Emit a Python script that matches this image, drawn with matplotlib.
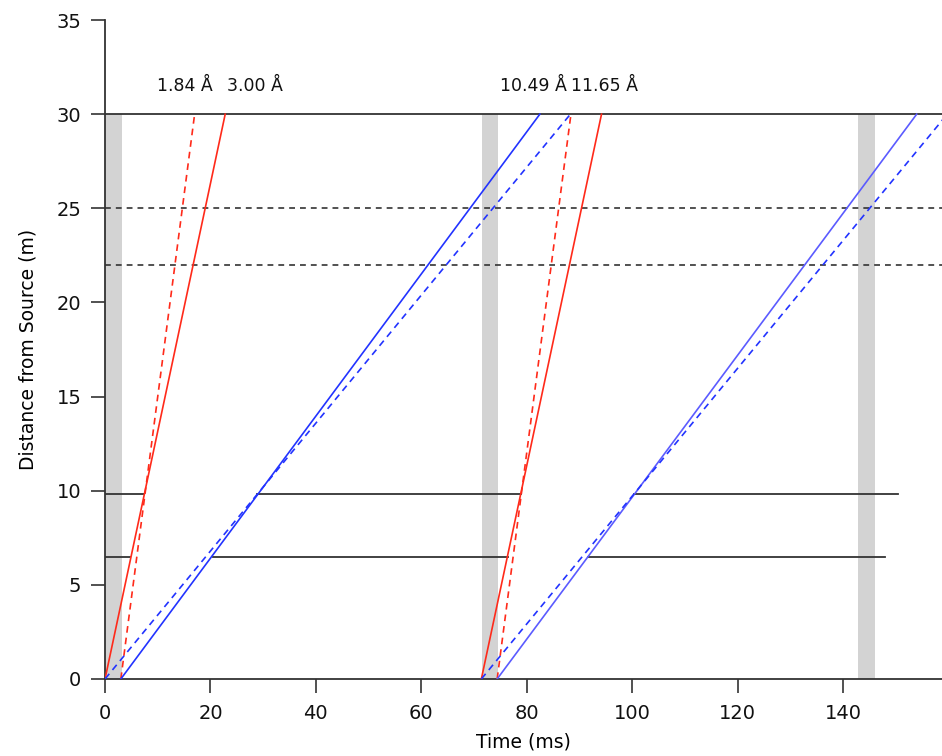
import matplotlib
matplotlib.use('Agg')
import matplotlib.pyplot as plt

# source pulses (ms), gray bands
pulse_starts = [0.0, 71.43, 142.86]
band_width = 3.2

# neutron lines: start time at source, time at 30 m (ms)
red_solid_t0 = [0.0, 71.4]
red_solid_t30 = [22.8, 94.2]
red_dash_t0 = [3.0, 74.4]
red_dash_t30 = [17.0, 88.4]
blue_solid_t0 = [3.0, 74.4]
blue_solid_t30 = [82.5, 154.0]
blue_dash_t0 = [0.0, 71.4]
blue_dash_t30 = [88.3, 159.8]

# chopper positions (m) and closed segments (ms)
chopper1_pos = 9.8
chopper1_closed = [(0.0, 7.4), (28.9, 79.0), (100.4, 150.4)]
chopper2_pos = 6.5
chopper2_closed = [(0.0, 4.8), (20.5, 76.4), (91.6, 147.9)]

detector_pos = 30.0
monitor_pos = [25.0, 22.0]

labels = ['1.84 Å', '3.00 Å', '10.49 Å', '11.65 Å']
label_x = [15.2, 28.5, 81.2, 94.7]
label_y = 31.5

plt.rcParams['font.family'] = ['DejaVu Sans']

fig = plt.figure(figsize=(9.42, 7.56), dpi=100)
ax = fig.add_axes([0.1115, 0.1019, 0.8885, 0.8716])

dark = '#333333'
for t in pulse_starts:
    ax.axvspan(t, t + band_width, ymin=0, ymax=30 / 35, color='#d3d3d3', lw=0, zorder=1)

ax.plot([0, 160], [detector_pos, detector_pos], color=dark, lw=1.3, zorder=2)
for y in monitor_pos:
    ax.plot([0, 160], [y, y], color=dark, lw=1.2, ls=(0, (3.5, 3)), zorder=2)
for a, b in chopper1_closed:
    ax.plot([a, b], [chopper1_pos, chopper1_pos], color=dark, lw=1.3, zorder=2)
for a, b in chopper2_closed:
    ax.plot([a, b], [chopper2_pos, chopper2_pos], color=dark, lw=1.3, zorder=2)

red = '#ff2a1a'
blues = ['#2233ff', '#5b5bff']
for i in range(2):
    ax.plot([red_solid_t0[i], red_solid_t30[i]], [0, 30], color=red, lw=1.2, zorder=3)
    ax.plot([red_dash_t0[i], red_dash_t30[i]], [0, 30], color=red, lw=1.2,
            ls=(0, (4, 3)), zorder=3)
    ax.plot([blue_solid_t0[i], blue_solid_t30[i]], [0, 30], color=blues[i], lw=1.2, zorder=3)
    ax.plot([blue_dash_t0[i], blue_dash_t30[i]], [0, 30], color='#2233ff', lw=1.2,
            ls=(0, (4, 3)), zorder=3)

for txt, x in zip(labels, label_x):
    ax.text(x, label_y, txt, ha='center', va='center', fontsize=12.5, color='#111111')

ax.set_xlim(0, 158.8)
ax.set_ylim(0, 35)
ax.set_xticks(range(0, 141, 20))
ax.set_yticks(range(0, 36, 5))
for s in ['top', 'right']:
    ax.spines[s].set_visible(False)
for s in ['left', 'bottom']:
    ax.spines[s].set_color(dark)
    ax.spines[s].set_linewidth(1.3)
ax.tick_params(direction='out', length=10, width=1.2, color=dark, labelsize=14,
               labelcolor='#111111')
ax.tick_params(axis='x', pad=8)
ax.tick_params(axis='y', pad=7)
ax.set_xlabel('Time (ms)', fontsize=13.5, labelpad=7)
ax.set_ylabel('Distance from Source (m)', fontsize=13.5, labelpad=14)

fig.savefig('out.png', dpi=100)
